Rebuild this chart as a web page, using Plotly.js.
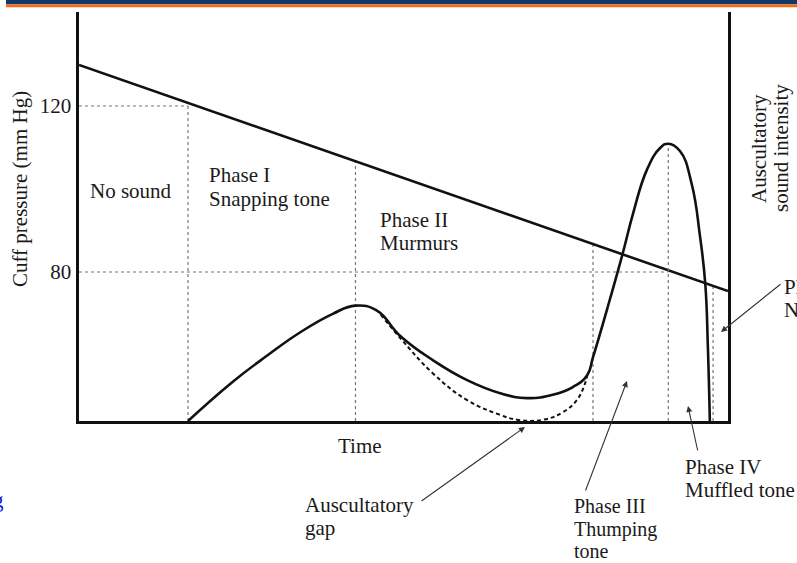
<!DOCTYPE html>
<html>
<head>
<meta charset="utf-8">
<script src="https://cdn.plot.ly/plotly-3.0.1.min.js"></script>
<style>html,body{margin:0;padding:0;background:#fff;}#chart{width:797px;height:563px;}</style>
</head>
<body>
<div id="chart"></div>
<script>
// ---- data (time in arbitrary units 0..100) ----
const pressureTime = [0, 100];
const cuffPressure = [129.9, 75.4];            // mm Hg

const intensityTime = [16.8, 23.7, 29.0, 34.1, 39.1, 42.6, 45.9, 49.5, 54.5, 59.8, 64.9, 69.0, 73.0, 76.1, 78.3, 79.2, 81.4, 83.8, 85.4, 87.5, 89.5, 90.8, 92.6, 94.4, 95.7, 96.5, 96.9, 97.2];
const soundIntensity = [0, 9.6, 16.0, 21.7, 26.2, 28.2, 27.0, 20.8, 14.9, 10.0, 6.8, 5.6, 6.4, 8.3, 11.2, 15.6, 27.5, 41.1, 50.9, 61.4, 66.7, 67.8, 66.0, 58.0, 45.0, 33.5, 18.1, 0];

const gapTime = [46.5, 49.5, 54.5, 59.8, 64.9, 67.5, 71.5, 74.6, 76.7, 78.0, 78.3];
const gapIntensity = [26.0, 20.3, 11.7, 5.1, 1.5, 0.3, 0.3, 2.2, 5.1, 9.3, 11.2];

const phaseBoundaries = [16.8, 42.6, 79.2, 97.7];
const peakTime = 90.8, peakIntensity = 67.8;
const refPressures = [120, 80];
const refPressureEnds = [16.8, 90.8];
const yTicks = [80, 120];

// ---- derived helpers ----
function pressureAt(t) {
  const f = (t - pressureTime[0]) / (pressureTime[1] - pressureTime[0]);
  return cuffPressure[0] + f * (cuffPressure[1] - cuffPressure[0]);
}
const Y0 = 44.1, Y1 = 142.65;
let vx = [], vy = [];
phaseBoundaries.forEach(t => { vx.push(t, t, null); vy.push(Y0, pressureAt(t), null); });
let hx = [], hy = [];
refPressures.forEach((p, i) => { hx.push(0, refPressureEnds[i], null); hy.push(p, p, null); });

const dotted = {color: '#777', width: 1.2, dash: 'dot'};
const traces = [
  {x: hx, y: hy, mode: 'lines', line: dotted, hoverinfo: 'skip'},
  {x: vx, y: vy, mode: 'lines', line: dotted, hoverinfo: 'skip'},
  {x: [peakTime, peakTime], y: [0, peakIntensity], yaxis: 'y2', mode: 'lines', line: dotted, hoverinfo: 'skip'},
  {x: pressureTime, y: cuffPressure, mode: 'lines', line: {color: '#111', width: 2.6}},
  {x: gapTime, y: gapIntensity, yaxis: 'y2', mode: 'lines', line: {color: '#111', width: 2, dash: '4px,3px', shape: 'spline', smoothing: 1.2}},
  {x: intensityTime, y: soundIntensity, yaxis: 'y2', mode: 'lines', line: {color: '#111', width: 2.6, shape: 'spline', smoothing: 1.3}}
];

// pixel -> paper conversion for label placement
const L = 79, R = 728, T = 12, B = 421;
const px = x => (x - L) / (R - L);
const py = y => (B - y) / (B - T);
const FONT = 'Liberation Serif, Times New Roman, serif';
const TXT = '#1a1a1a';

function label(text, x, y, opts) {
  return Object.assign({text: text, xref: 'paper', yref: 'paper', x: px(x), y: py(y),
    xanchor: 'left', yanchor: 'middle', showarrow: false,
    font: {family: FONT, size: 21, color: TXT}}, opts || {});
}
function arrow(tipX, tipY, tailX, tailY) {
  return {text: '', xref: 'paper', yref: 'paper', x: px(tipX), y: py(tipY),
    ax: tailX - tipX, ay: tailY - tipY, axref: 'pixel', ayref: 'pixel',
    showarrow: true, arrowhead: 2, arrowsize: 1.1, arrowwidth: 1.1, arrowcolor: '#333', standoff: 0};
}
const small = {font: {family: FONT, size: 20, color: TXT}};

const annotations = [
  label('No sound', 88, 191),
  label('Phase I', 207, 175),
  label('Snapping tone', 207, 199),
  label('Phase II', 378, 220),
  label('Murmurs', 378, 243),
  label('Time', 360, 446, {xanchor: 'center'}),
  label('Cuff pressure (mm Hg)', 20, 189, {xanchor: 'center', textangle: -90}),
  label('Auscultatory', 759, 149, {xanchor: 'center', textangle: -90}),
  label('sound intensity', 781, 148, {xanchor: 'center', textangle: -90}),
  label('Auscultatory', 303, 505),
  label('gap', 303, 528),
  label('Phase III', 572, 506, small),
  label('Thumping', 572, 529, small),
  label('tone', 572, 551, small),
  label('Phase IV', 683, 467),
  label('Muffled tone', 683, 490),
  label('Phase V', 782, 287),
  label('No sound', 782, 310),
  label('<u>g</u>', 6, 500, {xanchor: 'right', font: {family: FONT, size: 21, color: '#1010e0'}}),
  arrow(525, 427, 420, 502),
  arrow(627, 381, 585, 492),
  arrow(688, 406, 698, 452),
  arrow(721, 332, 782, 283)
];

const shapes = [
  {type: 'rect', xref: 'paper', yref: 'paper', x0: px(6), x1: px(800), y0: py(4.3), y1: py(-1), fillcolor: '#0d3a69', line: {width: 0}, layer: 'above'},
  {type: 'rect', xref: 'paper', yref: 'paper', x0: px(6), x1: px(800), y0: py(7.2), y1: py(4.3), fillcolor: '#f26b1d', line: {width: 0}, layer: 'above'}
];

const layout = {
  width: 797, height: 563,
  margin: {l: L, r: 797 - R, t: T, b: 563 - B, pad: 0},
  paper_bgcolor: '#fff', plot_bgcolor: '#fff',
  showlegend: false,
  xaxis: {range: [0, 100], showline: true, linewidth: 2.6, linecolor: '#111', showgrid: false, zeroline: false, showticklabels: false, ticks: ''},
  yaxis: {range: [Y0, Y1], showline: true, linewidth: 2.6, linecolor: '#111', showgrid: false, zeroline: false,
    tickvals: yTicks, ticktext: yTicks.map(String), ticks: '', ticklabelstandoff: 1,
    tickfont: {family: FONT, size: 21, color: TXT}},
  yaxis2: {range: [0, 100], overlaying: 'y', side: 'right', showline: true, linewidth: 2.6, linecolor: '#111',
    showgrid: false, zeroline: false, showticklabels: false, ticks: ''},
  annotations: annotations,
  shapes: shapes
};

Plotly.newPlot('chart', traces, layout, {staticPlot: true, displayModeBar: false});
</script>
</body>
</html>
